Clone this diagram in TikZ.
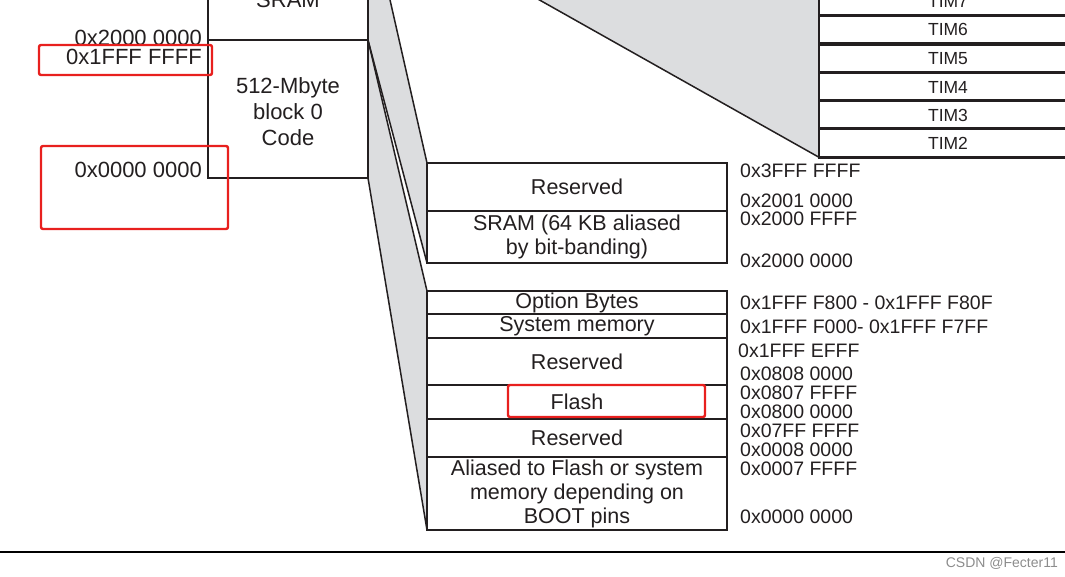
\documentclass[tikz,border=0pt]{standalone}
\usepackage{fontspec}
\setmainfont{Liberation Sans}
\definecolor{wedgegray}{RGB}{220,221,223}
\definecolor{markred}{RGB}{232,32,30}
\definecolor{ink}{RGB}{35,31,32}
\begin{document}
\begin{tikzpicture}[x=1pt,y=-1pt,
  boxline/.style={draw=ink, line width=2.8pt, fill=white, inner sep=0pt, outer sep=0pt, text=ink},
  lbox/.style={boxline, minimum width=160pt, align=center, font=\fontsize{22}{26}\selectfont},
  rbox/.style={boxline, minimum width=300pt, align=center, font=\fontsize{21.5}{23.5}\selectfont},
  tbox/.style={boxline, minimum width=258pt, minimum height=28.6pt, font=\fontsize{17.5}{20}\selectfont},
  laddr/.style={inner sep=0pt, anchor=east, text=ink, font=\fontsize{22}{26}\selectfont},
  raddr/.style={inner sep=0pt, anchor=west, text=ink, font=\fontsize{19.5}{22}\selectfont},
  wedge/.style={draw=ink, line width=1.5pt},
  redbox/.style={draw=markred, line width=2.4pt, rounded corners=2pt}
]
\useasboundingbox (0,0) rectangle (1065,577);
\clip (0,0) rectangle (1065,577);

% helper coordinates outside the visible area
\coordinate (sramtopl) at (368,-20);
\coordinate (sramtopr) at (385.5,-20);
\coordinate (timtop) at (504,-20);
\coordinate (timtopr) at (820,-20);

% ---- boxes (positions) ----
\path node[lbox, minimum height=140pt] (sram) at (288,-30) {}
      node[lbox, minimum height=138pt] (code) at (288,109) {};
\path node[rbox, minimum height=48pt] (res1) at (577,187) {}
      node[rbox, minimum height=52pt] (sramd) at (577,237) {}
      node[rbox, minimum height=23pt] (optb) at (577,302.5) {}
      node[rbox, minimum height=24pt] (sysm) at (577,326) {}
      node[rbox, minimum height=47pt] (res2) at (577,361.5) {}
      node[rbox, minimum height=34pt] (flash) at (577,402) {}
      node[rbox, minimum height=38pt] (res3) at (577,438) {}
      node[rbox, minimum height=73pt] (alias) at (577,493.5) {};
\path node[tbox] (tim7) at (948,1) {}
      node[tbox] (tim6) at (948,29.5) {}
      node[tbox] (tim5) at (948,58.5) {}
      node[tbox] (tim4) at (948,87) {}
      node[tbox] (tim3) at (948,115) {}
      node[tbox] (tim2) at (948,143) {};

% ---- gray wedges ----
\fill[wedgegray] (sramtopl) -- (sramtopr) -- (res1.north west) -- (sramd.south west) -- (code.north east) -- cycle;
\fill[wedgegray] (code.north east) -- (optb.north west) -- (alias.south west) -- (code.south east) -- cycle;
\fill[wedgegray] (timtop) -- (tim2.south west) -- (timtopr) -- cycle;
\draw[wedge] (sramtopr) -- (res1.north west);
\draw[wedge] (code.north east) -- (sramd.south west);
\draw[wedge] (code.north east) -- (optb.north west);
\draw[wedge] (code.south east) -- (alias.south west);
\draw[wedge] (timtop) -- (tim2.south west);

% ---- boxes drawn on top ----
\node[lbox, minimum height=140pt] at (sram) {};
\node[lbox, minimum height=138pt] at (code) {};
\node[font=\fontsize{22}{26}\selectfont, text=ink, anchor=base] (sramtxt) at (288,8) {SRAM};
\node[font=\fontsize{22}{26}\selectfont, text=ink, align=center, inner sep=0pt] (codetxt) at (288,112) {512-Mbyte\\block 0\\Code};

\node[rbox, minimum height=48pt] at (res1) {Reserved};
\node[rbox, minimum height=52pt] at (sramd) {SRAM (64 KB aliased\\by bit-banding)};
\node[rbox, minimum height=23pt] at (optb) {Option Bytes};
\node[rbox, minimum height=24pt] at (sysm) {System memory};
\node[rbox, minimum height=47pt] at (res2) {Reserved};
\node[rbox, minimum height=34pt] at (flash) {Flash};
\node[rbox, minimum height=38pt] at (res3) {Reserved};
\node[rbox, minimum height=73pt, font=\fontsize{21.5}{24}\selectfont] at (alias) {Aliased to Flash or system\\memory depending on\\BOOT pins};

\node[tbox] at (tim7) {TIM7};
\node[tbox] at (tim6) {TIM6};
\node[tbox] at (tim5) {TIM5};
\node[tbox] at (tim4) {TIM4};
\node[tbox] at (tim3) {TIM3};
\node[tbox] at (tim2) {TIM2};

% ---- left addresses ----
\node[laddr] (a1) at (202,38) {0x2000 0000};
\node[laddr] (a2) at (202,57) {0x1FFF FFFF};
\node[laddr] (a3) at (202,170) {0x0000 0000};

% ---- right addresses ----
\node[raddr] (b1) at (740,171) {0x3FFF FFFF};
\node[raddr] (b2) at (740,201) {0x2001 0000};
\node[raddr] (b3) at (740,218.5) {0x2000 FFFF};
\node[raddr] (b4) at (740,260.5) {0x2000 0000};
\node[raddr] (b5) at (740,303) {0x1FFF F800 - 0x1FFF F80F};
\node[raddr] (b6) at (740,327) {0x1FFF F000- 0x1FFF F7FF};
\node[raddr] (b7) at (738,351) {0x1FFF EFFF};
\node[raddr] (b8) at (740,374) {0x0808 0000};
\node[raddr] (b9) at (740,393) {0x0807 FFFF};
\node[raddr] (b10) at (740,411.5) {0x0800 0000};
\node[raddr] (b11) at (740,431) {0x07FF FFFF};
\node[raddr] (b12) at (740,450) {0x0008 0000};
\node[raddr] (b13) at (740,469) {0x0007 FFFF};
\node[raddr] (b14) at (740,517) {0x0000 0000};

% ---- red annotation boxes ----
\draw[redbox] (39,45) rectangle (212,75);
\draw[redbox] (41,146) rectangle (228,229);
\draw[redbox] (508,385) rectangle (705,417);

% ---- bottom rule and watermark ----
\coordinate (ruleL) at (0,552);
\coordinate (ruleR) at (1065,552);
\draw[line width=2.6pt, black] (ruleL) -- (ruleR);
\node[font=\fontsize{14}{16}\selectfont, text=black!45, anchor=east, inner sep=0pt] (wm) at (1058,563) {CSDN @Fecter11};
\end{tikzpicture}
\end{document}
